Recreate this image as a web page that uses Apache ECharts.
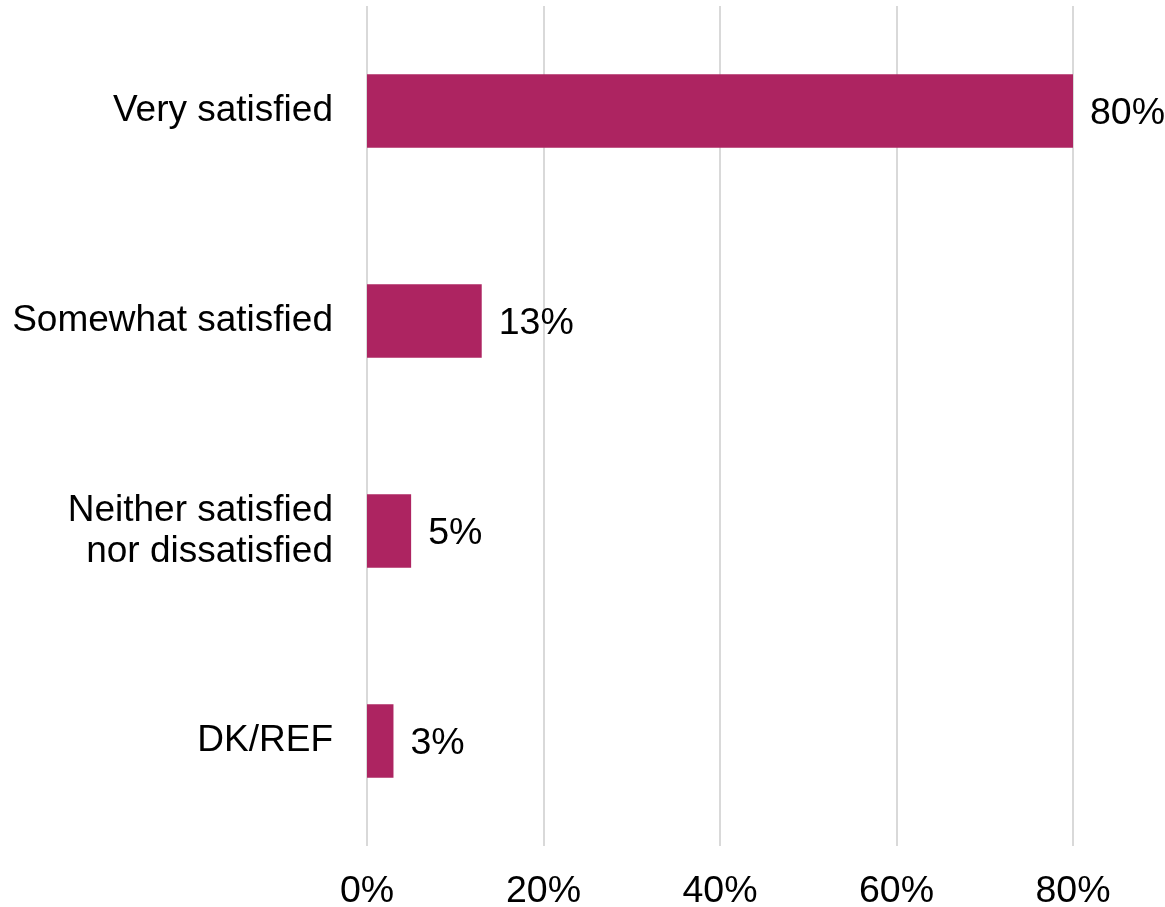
<!DOCTYPE html>
<html>
<head>
<meta charset="utf-8">
<style>
  html, body { margin: 0; padding: 0; background: #ffffff; }
  #chart { width: 1165px; height: 907px; }
</style>
<script src="https://cdn.jsdelivr.net/npm/echarts@6/dist/echarts.min.js"></script>
</head>
<body>
<div id="chart"></div>
<script>
// Satisfaction responses, top to bottom
const categories = [
  'Very satisfied',
  'Somewhat satisfied',
  'Neither satisfied\nnor dissatisfied',
  'DK/REF'
];
const shares = [80, 13, 5, 3];
const xTicks = [0, 20, 40, 60, 80];

const barColor = '#AD2461';
const font = 'Liberation Sans, Arial, sans-serif';

const chart = echarts.init(document.getElementById('chart'));
chart.setOption({
  animation: false,
  grid: {
    left: 367, right: 92, top: 6, bottom: 61,
    containLabel: false,
    outerBoundsMode: 'none'
  },
  xAxis: {
    type: 'value',
    min: xTicks[0],
    max: xTicks[xTicks.length - 1],
    interval: xTicks[1] - xTicks[0],
    axisLine: { show: false },
    axisTick: { show: false },
    splitLine: { show: true, lineStyle: { color: '#d9d9d9', width: 2 } },
    axisLabel: {
      formatter: v => v + '%',
      color: '#000',
      fontFamily: font,
      fontSize: 37.5,
      margin: 27
    }
  },
  yAxis: {
    type: 'category',
    inverse: true,
    data: categories,
    axisLine: { show: false },
    axisTick: { show: false },
    axisLabel: {
      color: '#000',
      fontFamily: font,
      fontSize: 37,
      lineHeight: 41,
      margin: 34,
      align: 'right',
      padding: [8, 0, 0, 0]
    }
  },
  series: [{
    type: 'bar',
    data: shares,
    barWidth: '35%',
    itemStyle: { color: barColor },
    label: {
      show: true,
      position: 'right',
      distance: 17,
      offset: [0, 3],
      formatter: p => p.value + '%',
      color: '#000',
      fontFamily: font,
      fontSize: 37.5
    }
  }]
});
</script>
</body>
</html>
